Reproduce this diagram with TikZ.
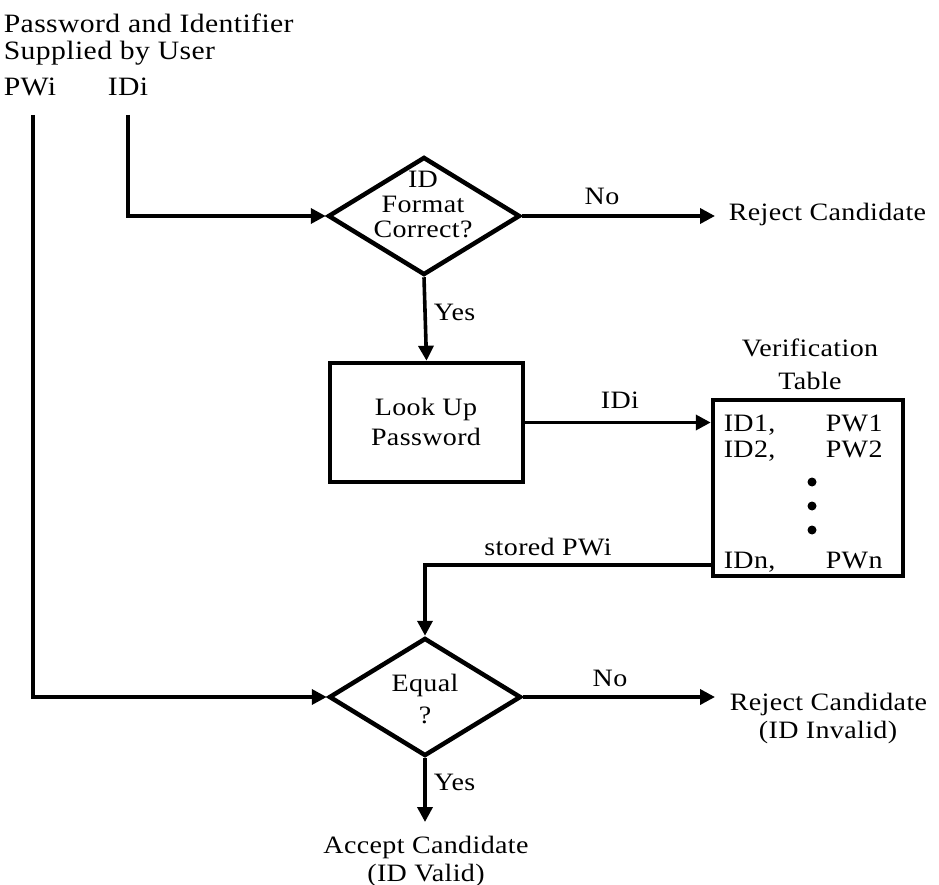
\documentclass[tikz,border=0pt]{standalone}
\usepackage{fontspec}
\setmainfont{Liberation Serif}[FakeStretch=1.12, LetterSpace=1.5]
\usetikzlibrary{shapes.geometric,arrows.meta}
\begin{document}
\begin{tikzpicture}[x=1pt,y=-1pt,
  line width=3.6pt,
  every node/.style={font=\fontsize{25}{25}\selectfont, inner sep=0pt},
  flow/.style={-{Triangle[length=15pt,width=15pt]}},
  decision/.style={draw, diamond, minimum width=192pt, minimum height=118pt,
    line width=4.5pt, line join=miter},
  stepbox/.style={draw, rectangle, line width=4.5pt},
  lbl/.style={anchor=base},
  head/.style={anchor=base west, font=\fontsize{26.5}{26.5}\selectfont},
  dot/.style={circle, fill, minimum size=9pt},
]
\useasboundingbox[fill=white] (0,0) rectangle (939,885);

% user input
\node[head] (hdr1) at (2,33) {Password and Identifier};
\node[head] (hdr2) at (2,60) {Supplied by User};
\node[head] (pwi) at (2,96) {PWi};
\node[head] (idi) at (106,96) {IDi};
\coordinate (pwtop) at (33,115);
\coordinate (idtop) at (128,115);

% format check
\node[decision] (d1) at (424,216) {};
\node[align=center] (d1t) at (423,204) {ID\\Format\\Correct?};
\coordinate (rej1tip) at (715,216);
\node[anchor=west] (rej1) at (727,214) {Reject Candidate};
\node[lbl] (no1) at (602,205) {No};

% password look-up
\node[stepbox, minimum width=193pt, minimum height=119pt] (look) at (426.5,422.5) {};
\node[lbl] (look1) at (426,415) {Look Up};
\node[lbl] (look2) at (426,445) {Password};
\node[lbl, anchor=base west] (yes1) at (432,320) {Yes};

% verification table
\node[stepbox, minimum width=190pt, minimum height=176pt] (tbl) at (808,488) {};
\node[lbl] (vt1) at (810,356) {Verification};
\node[lbl] (vt2) at (810,389) {Table};
\node[lbl, anchor=base west] (r1a) at (722,431) {ID1,};
\node[lbl, anchor=base west] (r1b) at (824,431) {PW1};
\node[lbl, anchor=base west] (r2a) at (722,457) {ID2,};
\node[lbl, anchor=base west] (r2b) at (824,457) {PW2};
\node[dot] (dt1) at (812,482) {};
\node[dot] (dt2) at (812,506) {};
\node[dot] (dt3) at (812,530) {};
\node[lbl, anchor=base west] (rna) at (722,568) {IDn,};
\node[lbl, anchor=base west] (rnb) at (824,568) {PWn};
\node[lbl] (idlbl) at (620,408) {IDi};
\coordinate (sp) at (0,565);
\node[lbl] (stored) at (548,555) {stored PWi};

% equality test
\node[decision] (d2) at (425,697) {};
\node[lbl] (eq1) at (425,691) {Equal};
\node[lbl] (eq2) at (425,723) {?};
\coordinate (rej2tip) at (715,697);
\node[lbl, anchor=base west] (rej2a) at (728,710) {Reject Candidate};
\node[lbl] (rej2b) at (828,738) {(ID Invalid)};
\node[lbl] (no2) at (610,686) {No};
\coordinate (acctip) at (425,822);
\node[lbl, anchor=base west] (yes2) at (432,790) {Yes};
\node[lbl] (acc1) at (426,853) {Accept Candidate};
\node[lbl] (acc2) at (426,881) {(ID Valid)};

% connectors
\draw[flow] (idtop) |- (d1.west);
\draw[flow] (d1.east) -- (d1.east -| rej1tip);
\draw[flow] (d1.south) -- (look.north);
\draw[flow] (look.east) -- (tbl.west |- look.east);
\draw[flow] (tbl.west |- sp) -| (d2.north);
\draw[flow] (pwtop) |- (d2.west);
\draw[flow] (d2.east) -- (d2.east -| rej2tip);
\draw[flow] (d2.south) -- (acctip);
\end{tikzpicture}
\end{document}
